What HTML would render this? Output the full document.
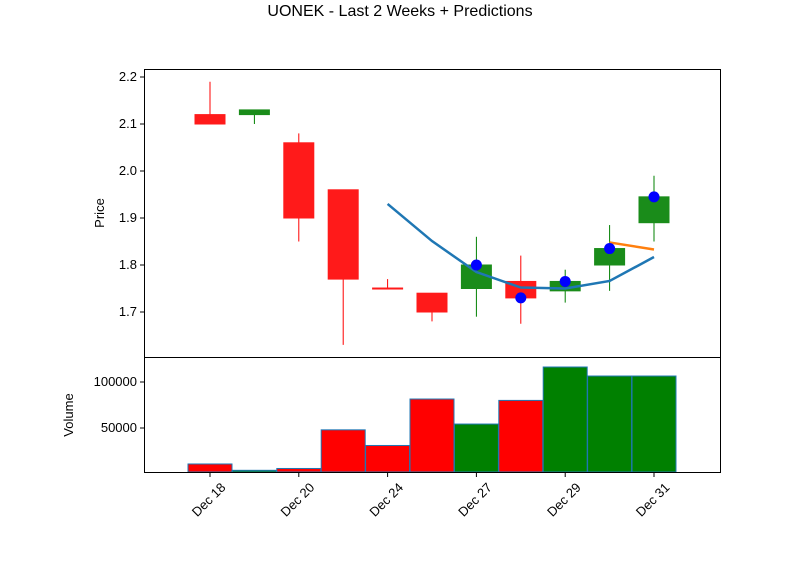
<!DOCTYPE html>
<html><head><meta charset="utf-8"><style>
body{margin:0;background:#fff;font-family:"Liberation Sans","DejaVu Sans",sans-serif}
svg text{font-family:"Liberation Sans","DejaVu Sans",sans-serif;fill:#000}
</style></head><body>
<svg id="c" width="800" height="575" xmlns="http://www.w3.org/2000/svg">
<text x="400" y="16" font-size="16" text-anchor="middle">UONEK - Last 2 Weeks + Predictions</text>
<g id="p"></g>
</svg>
<script>
const dates=["Dec 17","Dec 18","Dec 20","Dec 23","Dec 24","Dec 26","Dec 27","Dec 28","Dec 29","Dec 30","Dec 31"];
const opens=[2.12,2.12,2.06,1.96,1.751,1.74,1.75,1.765,1.745,1.80,1.89];
const closes=[2.10,2.13,1.90,1.77,1.749,1.70,1.80,1.73,1.765,1.835,1.945];
const highs=[2.19,2.13,2.08,1.96,1.77,1.74,1.86,1.82,1.79,1.885,1.99];
const lows=[2.10,2.10,1.85,1.63,1.75,1.68,1.69,1.675,1.72,1.745,1.85];
const volumes=[10900,4000,6000,48000,31000,81500,54300,80000,116300,106500,106500];
const actualDots=[null,null,null,null,null,null,1.80,1.73,1.765,1.835,1.945];
const predBlue=[null,null,null,null,1.93,1.851,1.785,1.752,1.75,1.766,1.817];
const predOrange=[null,null,null,null,null,null,null,null,null,1.848,1.833];
const priceTicks=[1.7,1.8,1.9,2.0,2.1,2.2];
const volTicks=[50000,100000];
const xTickIdx=[0,2,4,6,8,10];
const xTickLabels=["Dec 18","Dec 20","Dec 24","Dec 27","Dec 29","Dec 31"];

const NS="http://www.w3.org/2000/svg",g=document.getElementById('p');
const X=i=>210+i*44.4;
const Y=v=>77+(2.2-v)*470;
const VY=v=>474-v*46/50000;
function el(t,a,n){const e=document.createElementNS(NS,t);for(const k in a)e.setAttribute(k,a[k]);


g.appendChild(e);return e;}
dates.forEach((d,i)=>{const up=closes[i]>=opens[i];const col=up?'#1a8c1a':'#ff1a1a';
el('line',{x1:X(i),x2:X(i),y1:Y(highs[i]),y2:Y(lows[i]),stroke:up?'green':'red','stroke-width':1},'candle-wick');
const t=Y(Math.max(opens[i],closes[i])),b=Y(Math.min(opens[i],closes[i]));
el('rect',{x:X(i)-15,y:t,width:30,height:Math.max(b-t,1),fill:col,stroke:col,'stroke-width':1},'candle-body');});
function line(arr,c,n){const pts=[];arr.forEach((v,i)=>{if(v!=null)pts.push(X(i)+','+Y(v));});
el('polyline',{points:pts.join(' '),fill:'none',stroke:c,'stroke-width':2.5},n);}
line(predBlue,'#1f77b4','prediction-line');
line(predOrange,'#ff7f0e','prediction-line-2');
actualDots.forEach((v,i)=>{if(v!=null)el('circle',{cx:X(i),cy:Y(v),r:5.5,fill:'#0000ff'},'close-dot');});
volumes.forEach((v,i)=>{const up=closes[i]>=opens[i];
el('rect',{x:X(i)-22,y:VY(v),width:44,height:Math.max(472-VY(v),0),fill:up?'#008000':'#ff0000',stroke:'#1f77b4','stroke-width':1},'volume-bar');});
el('rect',{x:144.5,y:69.5,width:576,height:288,fill:'none',stroke:'#000','stroke-width':1},'price-axes');
el('rect',{x:144.5,y:357.5,width:576,height:115,fill:'none',stroke:'#000','stroke-width':1},'volume-axes');
priceTicks.forEach(v=>{el('line',{x1:140,x2:144,y1:Y(v),y2:Y(v),stroke:'#000'},'price-tick');
const t=el('text',{x:137,y:Y(v)+4,'font-size':13,'text-anchor':'end'},'price-tick-label');t.textContent=v.toFixed(1);});
volTicks.forEach(v=>{el('line',{x1:140,x2:144,y1:VY(v),y2:VY(v),stroke:'#000'},'volume-tick');
const t=el('text',{x:137,y:VY(v)+4,'font-size':13,'text-anchor':'end'},'volume-tick-label');t.textContent=v;});
xTickIdx.forEach((i,k)=>{el('line',{x1:X(i),x2:X(i),y1:472,y2:477,stroke:'#000'},'x-tick');
const cx=X(i)-1,cy=500;
const t=el('text',{x:cx,y:cy+4,'font-size':13,'text-anchor':'middle',transform:`rotate(-45 ${cx} ${cy})`},'x-tick-label');t.textContent=xTickLabels[k];});
let t=el('text',{x:104,y:213,'font-size':13,'text-anchor':'middle',transform:'rotate(-90 104 213)'},'y-axis-title');t.textContent='Price';
t=el('text',{x:73,y:415,'font-size':13,'text-anchor':'middle',transform:'rotate(-90 73 415)'},'volume-axis-title');t.textContent='Volume';
</script>
</body></html>
